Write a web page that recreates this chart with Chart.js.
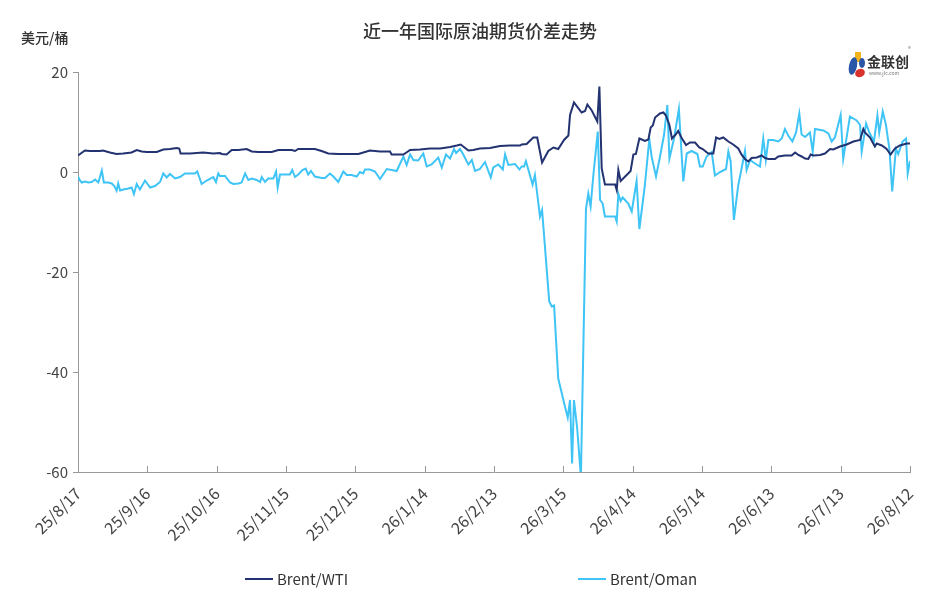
<!DOCTYPE html>
<html>
<head>
<meta charset="utf-8">
<title>近一年国际原油期货价差走势</title>
<script src="https://cdn.jsdelivr.net/npm/chart.js@4/dist/chart.umd.min.js"></script>
<style>
  html, body { margin: 0; padding: 0; background: #fff; }
  #wrap { width: 938px; height: 602px; position: relative; }
</style>
</head>
<body>
<div id="wrap"><canvas id="spread"></canvas></div>
<script>
// x tick labels, one every 30 days starting 25/8/17
const tickLabels = ['25/8/17', '25/9/16', '25/10/16', '25/11/15', '25/12/15', '26/1/14',
  '26/2/13', '26/3/15', '26/4/14', '26/5/14', '26/6/13', '26/7/13', '26/8/12'];

// Brent/WTI: day offset from 25/8/17 and spread (USD/bbl)
const wtiDays = [0, 0.9, 3.0, 5.2, 9.5, 10.8, 13.8, 16.7, 19.5, 23.2, 25.4, 27.6, 29.7, 34.1, 36.9,
  39.8, 42.7, 43.8, 44.4, 48.5, 54.2, 58.5, 61.4, 62.2, 64.3, 66.5, 69.4, 73.0, 75.2, 78.0,
  80.9, 83.8, 86.7, 89.6, 92.5, 93.9, 95.3, 99.6, 102.5, 105.4, 108.3, 112.6, 117.0, 121.3,
  124.2, 126.3, 130.7, 135.0, 135.7, 140.8, 143.7, 148.0, 152.3, 156.7, 161.0, 163.9, 165.6,
  168.9, 171.0, 173.9, 178.3, 182.6, 186.9, 191.3, 192.0, 194.1, 197.0, 198.7, 200.8, 203.5,
  205.7, 207.8, 210.3, 212.2, 212.9, 214.6, 217.9, 219.4, 220.4, 222.3, 224.7, 225.6, 226.6,
  228.0, 232.4, 233.1, 233.8, 234.8, 237.4, 239.1, 240.3, 241.4, 242.9, 245.3, 246.8, 247.8,
  248.7, 249.7, 251.8, 253.3, 254.4, 255.9, 257.0, 258.6, 259.7, 261.2, 263.1, 264.8, 267.0,
  268.8, 270.3, 272.7, 274.9, 276.1, 277.5, 279.2, 281.4, 283.5, 285.7, 287.2, 288.6, 290.0,
  291.5, 293.7, 295.8, 297.3, 298.7, 301.6, 303.0, 305.9, 308.8, 310.3, 311.7, 313.1, 314.6,
  316.0, 317.0, 318.2, 321.1, 323.2, 325.4, 326.8, 329.7, 332.6, 335.5, 338.4, 339.8, 340.5,
  342.7, 344.8, 345.6, 347.8, 349.9, 351.6, 353.5, 355.6, 358.6, 360];
const wtiValues = [3.3, 3.6, 4.3, 4.2, 4.2, 4.3, 3.9, 3.6, 3.7, 3.9, 4.4, 4.1, 4.0, 4.0, 4.5,
  4.6, 4.8, 4.7, 3.7, 3.7, 3.9, 3.7, 3.8, 3.6, 3.5, 4.4, 4.4, 4.6, 4.1, 4.0,
  4.0, 4.0, 4.4, 4.4, 4.4, 4.2, 4.6, 4.6, 4.6, 4.2, 3.7, 3.6, 3.6, 3.6,
  4.0, 4.3, 4.1, 4.1, 3.5, 3.5, 4.4, 4.5, 4.7, 4.7, 5.0, 5.3, 5.5,
  4.3, 4.4, 4.7, 4.8, 5.2, 5.3, 5.3, 5.5, 5.6, 6.9, 6.9, 1.9, 4.2,
  4.9, 4.6, 6.4, 7.3, 11.4, 13.9, 11.9, 12.2, 13.5, 12.3, 10.1, 17.1, 0.7,
  -2.5, -2.5, -3.6, 0.4, -1.8, -0.6, 0.2, 3.5, 3.6, 6.7, 6.2, 6.5, 8.9,
  9.3, 10.9, 11.7, 11.9, 11.3, 9.4, 6.7, 7.5, 8.2, 6.8, 5.4, 5.9, 5.9,
  4.9, 4.6, 3.7, 3.7, 6.9, 6.6, 6.9, 6.1, 5.5, 4.7, 3.4, 2.6, 2.1,
  2.8, 2.9, 3.3, 2.8, 2.6, 2.6, 3.1, 3.3, 3.3, 3.9, 3.4, 3.1, 2.7,
  2.6, 3.5, 3.3, 3.4, 3.7, 4.6, 4.5, 5.1, 5.5, 6.1, 6.4, 8.6, 7.9,
  6.9, 5.1, 5.7, 5.3, 4.6, 3.5, 4.7, 5.3, 5.7, 5.7];

// Brent/Oman: day offset from 25/8/17 and spread (USD/bbl)
const omanDays = [0, 0.7, 1.6, 3.0, 4.5, 5.9, 7.4, 8.8, 10.3, 11.2, 13.1, 14.6, 15.7, 16.7, 17.4,
  18.2, 19.6, 21.8, 23.2, 24.2, 25.4, 26.8, 29.0, 31.2, 33.3, 35.5, 36.9, 38.4, 39.8, 42.0,
  44.1, 46.3, 50.6, 51.6, 53.5, 55.7, 58.5, 59.7, 60.7, 61.4, 63.6, 65.8, 67.2, 69.4, 70.8,
  72.3, 73.7, 75.2, 77.3, 78.8, 79.5, 80.9, 82.3, 84.5, 85.7, 86.4, 87.4, 89.6, 91.7, 92.7,
  93.9, 95.3, 97.1, 98.5, 99.6, 100.8, 102.5, 105.4, 106.9, 109.0, 110.5, 112.6, 114.8, 116.3,
  118.4, 120.6, 122.0, 123.4, 124.2, 126.3, 128.5, 130.7, 133.6, 135.7, 137.9, 140.8, 142.2,
  143.7, 145.1, 147.2, 149.4, 150.9, 153.0, 155.9, 157.4, 159.2, 161.0, 162.7, 163.6, 165.3,
  166.7, 168.9, 170.4, 171.8, 173.9, 176.1, 178.6, 179.7, 181.9, 183.8, 184.8, 186.2, 189.1,
  191.0, 192.0, 193.0, 193.8, 196.7, 197.7, 199.9, 200.8, 203.9, 205.0, 206.0, 207.8, 210.7,
  211.9, 212.9, 213.8, 214.6, 216.0, 217.6, 219.8, 220.8, 221.8, 223.0, 224.9, 225.9, 227.0,
  228.0, 232.4, 233.1, 233.8, 234.8, 235.7, 238.1, 239.6, 241.7, 242.9, 245.3, 247.2, 248.2,
  250.1, 251.8, 253.6, 255.0, 255.9, 256.9, 257.9, 260.0, 261.9, 263.4, 265.5, 268.0, 269.1,
  270.3, 272.0, 274.2, 275.6, 277.8, 280.4, 281.4, 282.4, 283.8, 285.7, 287.2, 288.6, 289.3,
  290.8, 292.9, 295.1, 296.5, 297.6, 298.7, 300.8, 303.0, 304.5, 305.9, 307.3, 309.1, 310.7,
  312.1, 313.1, 314.6, 316.7, 317.9, 318.9, 322.5, 324.7, 326.1, 327.5, 330.0, 331.1, 334.0,
  336.9, 338.4, 339.1, 341.0, 342.4, 344.4, 345.9, 346.7, 348.2, 349.6, 351.1, 352.3, 353.9,
  354.9, 356.8, 358.3, 359.0, 360];
const omanValues = [-0.9, -1.6, -2.1, -1.9, -2.1, -2.0, -1.5, -2.1, 0.3, -2.1, -2.1, -2.3, -2.8, -3.7, -2.3,
  -3.7, -3.5, -3.3, -3.1, -4.4, -2.4, -3.5, -1.7, -3.1, -2.8, -2.0, -0.3, -1.1, -0.4, -1.3,
  -1.0, -0.3, -0.3, 0.1, -2.4, -1.7, -1.0, -2.0, -0.3, -0.8, -0.8, -2.1, -2.4, -2.3, -2.1,
  -0.3, -1.6, -1.3, -1.6, -2.0, -1.0, -2.0, -1.3, -1.3, 0.1, -3.1, -0.5, -0.5, -0.5, 0.4,
  -1.0, -0.5, 0.4, 0.7, -0.5, 0.2, -0.9, -1.2, -1.2, -0.3, -0.9, -2.0, 0.1, -0.6,
  -0.6, -0.9, 0.0, -0.3, 0.5, 0.5, 0.1, -1.4, 0.6, 0.4, 0.2, 3.1, 1.4,
  3.5, 2.4, 2.3, 3.7, 1.1, 1.5, 2.9, 0.9, 3.5, 2.7, 4.6, 3.8, 4.6,
  3.5, 1.5, 2.4, 0.2, 0.6, 2.0, -1.1, 0.9, 1.5, 0.5, 3.5, 1.4, 1.6,
  0.5, 1.1, 1.1, 2.2, -2.5, -0.6, -8.9, -7.6, -25.9, -26.9, -26.7, -41.3, -46.9,
  -49.1, -45.6, -58.3, -45.6, -51.3, -61.0, -7.3, -4.3, -6.9, -0.6, 8.1, -5.6, -6.3,
  -8.9, -8.9, -9.9, -4.3, -5.8, -5.1, -6.3, -7.9, -1.8, -11.4, -2.6, 6.6, 3.1,
  -0.9, 3.0, 7.5, 13.4, 2.7, 4.7, 6.7, 12.6, -1.9, 3.7, 4.2, 3.6, 1.1,
  1.1, 3.1, 4.0, -0.7, 0.0, 0.6, 4.1, 2.1, -9.6, -2.6, 0.9, 4.2, 0.4,
  2.4, 1.7, 1.1, 6.7, 2.4, 6.4, 6.4, 6.1, 6.7, 8.6, 7.3, 6.1, 7.9,
  11.7, 7.5, 7.0, 7.9, 4.1, 8.6, 8.3, 7.7, 6.1, 6.9, 11.4, 2.6, 11.1,
  10.3, 9.4, 4.1, 9.7, 7.9, 6.1, 11.3, 7.9, 12.1, 9.4, 4.6, -3.9, 4.6,
  3.6, 6.1, 6.7, -0.3, 2.2];

const toPoints = (days, values) => days.map((d, i) => ({ x: d, y: values[i] }));

const FONT = '"Noto Sans CJK SC", "Noto Sans", sans-serif';

// title, unit, logo, legend and inner x ticks
const decorations = {
  id: 'decorations',
  afterDraw(chart) {
    const ctx = chart.ctx;
    const area = chart.chartArea;
    ctx.save();

    // title + unit
    ctx.fillStyle = '#333';
    ctx.textAlign = 'center';
    ctx.textBaseline = 'middle';
    ctx.font = '500 18px ' + FONT;
    ctx.fillText('近一年国际原油期货价差走势', 480, 31);
    ctx.textAlign = 'left';
    ctx.font = '500 14px ' + FONT;
    ctx.fillText('美元/桶', 21, 38);

    // x ticks pointing up into the plot
    const xs = chart.scales.x;
    ctx.strokeStyle = '#999';
    ctx.lineWidth = 1;
    xs.ticks.forEach(t => {
      const px = Math.round(xs.getPixelForValue(t.value)) + 0.5;
      ctx.beginPath();
      ctx.moveTo(px, area.bottom);
      ctx.lineTo(px, area.bottom - 6);
      ctx.stroke();
    });

    // logo
    ctx.fillStyle = '#f2b31c';
    ctx.fillRect(855, 52, 6, 10);
    ctx.fillStyle = '#2a56a8';
    ctx.beginPath();
    ctx.ellipse(853, 66, 4, 9, 0.2, 0, Math.PI * 2);
    ctx.fill();
    ctx.beginPath();
    ctx.ellipse(862, 63, 3, 5, 0, 0, Math.PI * 2);
    ctx.fill();
    ctx.fillStyle = '#d8322c';
    ctx.beginPath();
    ctx.ellipse(860, 73, 5, 4, -0.4, 0, Math.PI * 2);
    ctx.fill();
    ctx.fillStyle = '#333';
    ctx.font = 'bold 14px ' + FONT;
    ctx.fillText('金联创', 867, 62);
    ctx.font = '5px ' + FONT;
    ctx.fillStyle = '#777';
    ctx.fillText('www.jlc.com', 869, 73);
    ctx.font = '6px ' + FONT;
    ctx.fillText('®', 908, 49);

    // legend
    const starts = [245, 578];
    ctx.font = '15px ' + FONT;
    ctx.textBaseline = 'middle';
    chart.data.datasets.forEach((ds, i) => {
      const x0 = starts[i];
      ctx.strokeStyle = ds.borderColor;
      ctx.lineWidth = 2;
      ctx.beginPath();
      ctx.moveTo(x0, 579);
      ctx.lineTo(x0 + 28, 579);
      ctx.stroke();
      ctx.fillStyle = '#333';
      ctx.fillText(ds.label, x0 + 32, 579);
    });
    ctx.restore();
  }
};

new Chart(document.getElementById('spread'), {
  type: 'line',
  data: {
    datasets: [
      {
        label: 'Brent/WTI',
        data: toPoints(wtiDays, wtiValues),
        borderColor: '#233270',
        backgroundColor: '#233270',
        borderWidth: 2,
        pointRadius: 0,
        tension: 0
      },
      {
        label: 'Brent/Oman',
        data: toPoints(omanDays, omanValues),
        borderColor: '#3fc4f6',
        backgroundColor: '#3fc4f6',
        borderWidth: 2,
        pointRadius: 0,
        tension: 0
      }
    ]
  },
  options: {
    responsive: true,
    maintainAspectRatio: false,
    animation: false,
    layout: { padding: { top: 72, right: 28, bottom: 50, left: 0 } },
    plugins: {
      legend: { display: false },
      title: { display: false },
      tooltip: { enabled: false }
    },
    scales: {
      x: {
        type: 'linear',
        min: 0,
        max: 360,
        afterFit(scale) { scale.height = 80; },
        grid: { display: false, drawTicks: false },
        border: { display: true, color: '#999' },
        ticks: {
          stepSize: 30,
          autoSkip: false,
          minRotation: 45,
          maxRotation: 45,
          padding: 12,
          color: '#444',
          font: { family: FONT, size: 16 },
          callback: v => tickLabels[Math.round(v / 30)]
        }
      },
      y: {
        min: -60,
        max: 20,
        afterFit(scale) { scale.width = 78; },
        grid: { drawOnChartArea: false, drawTicks: true, tickLength: 5, color: '#999' },
        border: { display: true, color: '#999' },
        ticks: {
          stepSize: 20,
          padding: 5,
          color: '#444',
          font: { family: FONT, size: 15 }
        }
      }
    }
  },
  plugins: [decorations]
});
</script>
</body>
</html>
